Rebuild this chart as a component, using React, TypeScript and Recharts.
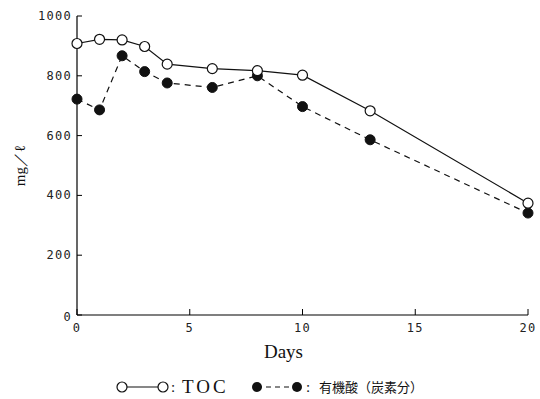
import { LineChart, Line, XAxis, YAxis } from "recharts";

const days = [0, 1, 2, 3, 4, 6, 8, 10, 13, 20];
const tocValues = [908, 922, 920, 898, 839, 824, 817, 802, 683, 374];
const acidValues = [722, 686, 867, 814, 776, 761, 800, 697, 586, 341];
const xTicks = [0, 5, 10, 15, 20];
const yTicks = [0, 200, 400, 600, 800, 1000];

const data = days.map((d, i) => ({ day: d, toc: tocValues[i], acid: acidValues[i] }));

const TICK_FONT = "'DejaVu Sans Mono', monospace";
const SERIF = "'Liberation Serif', 'DejaVu Serif', serif";

function XTick(props: any) {
  const { x, y, payload } = props;
  return (
    <g>
      <line x1={x} y1={y} x2={x} y2={y - 6} stroke="#000" strokeWidth={1} />
      <text x={x} y={y + 17} textAnchor="middle" fontSize={12} fontFamily={TICK_FONT} letterSpacing={1.3} fill="#222">
        {payload.value}
      </text>
    </g>
  );
}

function YTick(props: any) {
  const { x, y, payload } = props;
  return (
    <g>
      <line x1={x} y1={y} x2={x + 5} y2={y} stroke="#000" strokeWidth={1} />
      <text x={x - 5} y={y + 4 + (payload.value === 0 ? 2 : 0)} textAnchor="end" fontSize={12} fontFamily={TICK_FONT} letterSpacing={1.3} fill="#222">
        {payload.value}
      </text>
    </g>
  );
}

function OpenDot(props: any) {
  const { cx, cy } = props;
  return <circle cx={cx} cy={cy} r={5} fill="#fff" stroke="#111" strokeWidth={1.2} />;
}

function FilledDot(props: any) {
  const { cx, cy } = props;
  return <circle cx={cx} cy={cy} r={5} fill="#111" stroke="#111" strokeWidth={1} />;
}

function DaysLabel(props: any) {
  const { viewBox } = props;
  const cx = viewBox.x + viewBox.width / 2 - 19;
  return (
    <text x={cx} y={viewBox.y + 43} textAnchor="middle" fontSize={19} fontFamily={SERIF} fill="#111">
      Days
    </text>
  );
}

function UnitLabel(props: any) {
  const { viewBox } = props;
  const x = viewBox.x + 20;
  const y = viewBox.y + viewBox.height / 2;
  return (
    <text x={x} y={y} transform={`rotate(-90 ${x} ${y})`} textAnchor="middle" dominantBaseline="central" fontSize={15} fontFamily={SERIF} fill="#111">
      mg／ℓ
    </text>
  );
}

export default function App() {
  return (
    <div style={{ position: "absolute", left: 0, top: 0, width: 540, height: 399, background: "#fff" }}>
      <LineChart width={540} height={399} data={data} margin={{ top: 16, right: 12, bottom: 0, left: 0 }}>
        <XAxis
          dataKey="day"
          type="number"
          domain={[0, 20]}
          ticks={xTicks}
          height={84}
          tickSize={0}
          tickMargin={0}
          tickLine={false}
          tick={<XTick />}
          axisLine={{ stroke: "#000", strokeWidth: 1.2 }}
          label={<DaysLabel />}
        />
        <YAxis
          type="number"
          domain={[0, 1000]}
          ticks={yTicks}
          width={77}
          tickSize={0}
          tickMargin={0}
          tickLine={false}
          tick={<YTick />}
          axisLine={{ stroke: "#000", strokeWidth: 1.2 }}
          label={<UnitLabel />}
        />
        <Line
          dataKey="acid"
          stroke="#111"
          strokeWidth={1.2}
          strokeDasharray="6 5"
          dot={<FilledDot />}
          isAnimationActive={false}
        />
        <Line
          dataKey="toc"
          stroke="#111"
          strokeWidth={1.2}
          dot={<OpenDot />}
          isAnimationActive={false}
        />
      </LineChart>
      <svg width={540} height={30} style={{ position: "absolute", left: 0, top: 372 }}>
        <line x1={122} y1={15} x2={163} y2={15} stroke="#111" strokeWidth={1.2} />
        <circle cx={122} cy={15} r={5} fill="#fff" stroke="#111" strokeWidth={1.2} />
        <circle cx={163} cy={15} r={5} fill="#fff" stroke="#111" strokeWidth={1.2} />
        <text x={171} y={20} fontSize={15} fontFamily={SERIF} fill="#111">:</text>
        <text x={182} y={21} fontSize={19} fontFamily={SERIF} letterSpacing={3} fill="#111">
          TOC
        </text>
        <line x1={257} y1={15} x2={297} y2={15} stroke="#111" strokeWidth={1.2} strokeDasharray="5 4" />
        <circle cx={257} cy={15} r={5} fill="#111" />
        <circle cx={297} cy={15} r={5} fill="#111" />
        <text x={306} y={20} fontSize={15} fontFamily={SERIF} fill="#111">:</text>
        <text x={319} y={20} fontSize={13} fontFamily="'Noto Sans CJK JP', sans-serif" fill="#111">
          有機酸（炭素分）
        </text>
      </svg>
    </div>
  );
}
